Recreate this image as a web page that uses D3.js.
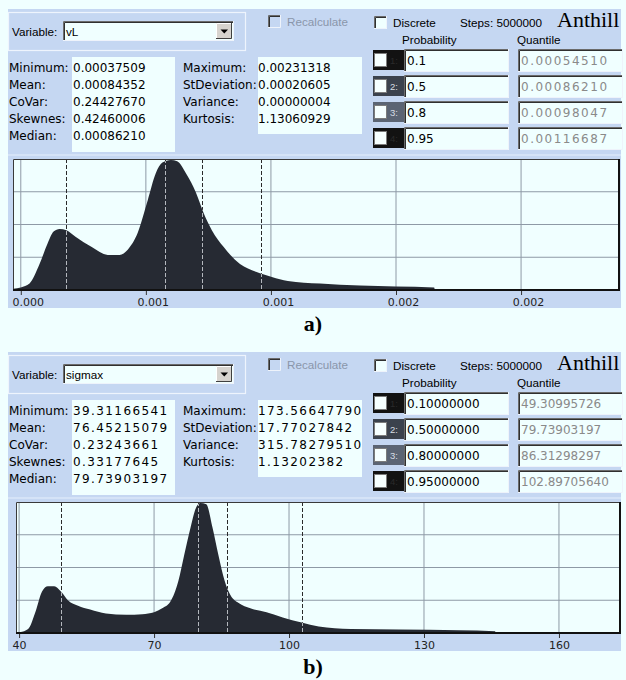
<!DOCTYPE html>
<html><head><meta charset="utf-8">
<script src="https://cdn.jsdelivr.net/npm/d3@7"></script>
<style>
body{margin:0;background:#f0ffff;}
svg{display:block;}
</style></head>
<body>
<svg id="c" width="626" height="680"></svg>
<script>
// ---------- DATA ----------
const variableNames = ["vL", "sigmax"];
const panelLetters = ["a)", "b)"];
const statLabelsLeft = ["Minimum:", "Mean:", "CoVar:", "Skewnes:", "Median:"];
const statLabelsRight = ["Maximum:", "StDeviation:", "Variance:", "Kurtosis:"];
const statsALeft = ["0.00037509", "0.00084352", "0.24427670", "0.42460006", "0.00086210"];
const statsARight = ["0.00231318", "0.00020605", "0.00000004", "1.13060929"];
const statsBLeft = ["39.31166541", "76.45215079", "0.23243661", "0.33177645", "79.73903197"];
const statsBRight = ["173.56647790", "17.77027842", "315.78279510", "1.13202382"];
const probA = ["0.1", "0.5", "0.8", "0.95"];
const probB = ["0.10000000", "0.50000000", "0.80000000", "0.95000000"];
const quantA = [0.00054510, 0.00086210, 0.00098047, 0.00116687];
const quantAText = ["0.00054510", "0.00086210", "0.00098047", "0.00116687"];
const quantB = [49.30995726, 79.73903197, 86.31298297, 102.89705640];
const quantBText = ["49.30995726", "79.73903197", "86.31298297", "102.89705640"];
const domainA = [0.00037509, 0.00231318];
const domainB = [39.31166541, 173.56647790];
const ticksA = [0.0004, 0.0008, 0.0012, 0.0016, 0.0020];
const tickLabelsA = ["0.000", "0.001", "0.001", "0.002", "0.002"];
const ticksB = [40, 70, 100, 130, 160];
const tickLabelsB = ["40", "70", "100", "130", "160"];
const rowColors = ["#121212", "#3b424d", "#5b6473", "#121212"];
// density outline (relative height, peak = 1)
const densA_x = [0.000376,0.000400,0.000428,0.000460,0.000486,0.000505,0.000524,0.000546,0.000575,0.000627,0.000678,0.000716,0.000742,0.000774,0.000806,0.000832,0.000853,0.000880,0.000900,0.000930,0.000960,0.000985,0.001011,0.001049,0.001101,0.001152,0.001203,0.001254,0.001357,0.001485,0.001600,0.001722,0.001724];
const densA_y = [0.01,0.02,0.05,0.20,0.36,0.45,0.47,0.46,0.41,0.33,0.27,0.27,0.31,0.44,0.69,0.90,0.98,1.00,0.99,0.89,0.75,0.59,0.46,0.33,0.20,0.14,0.10,0.07,0.05,0.034,0.026,0.02,0];
const densB_x = [39.4,40.2,42.0,43.7,45.1,46.4,47.8,49.3,50.9,53.1,55.8,59.3,63.8,67.4,70.0,71.8,73.6,75.4,76.7,78.1,79.4,80.3,81.6,83.0,84.3,85.7,87.0,88.8,91.4,95.0,98.6,102.8,106.6,113.7,124.4,137.8,145.8,145.9];
const densB_y = [0,0.005,0.03,0.17,0.32,0.36,0.36,0.32,0.25,0.21,0.18,0.15,0.14,0.145,0.16,0.19,0.24,0.40,0.60,0.81,0.97,1.0,0.99,0.81,0.60,0.40,0.29,0.23,0.19,0.16,0.12,0.08,0.05,0.03,0.026,0.021,0.013,0];

// ---------- DRAW ----------
const svg = d3.select("#c");
const BLUE = "#c5d7f2", AZ = "#f0ffff", FILL = "#262a33";
const SANS = "'Liberation Sans', Arial, sans-serif";
const DSANS = "'DejaVu Sans', sans-serif";
const SERIF = "'Liberation Serif', 'Times New Roman', serif";

function sunken(g, x, y, w, h, fill) {
  g.append("rect").attr("x", x).attr("y", y).attr("width", w).attr("height", h).attr("fill", fill);
  g.append("path").attr("d", `M${x+0.5},${y+h}V${y+0.5}H${x+w}`).attr("fill", "none").attr("stroke", "#6b6b6b");
  g.append("path").attr("d", `M${x+1.5},${y+h-1}V${y+1.5}H${x+w-1}`).attr("fill", "none").attr("stroke", "#303030");
  g.append("path").attr("d", `M${x},${y+h-0.5}H${x+w-0.5}V${y}`).attr("fill", "none").attr("stroke", "#eef3fb");
}

function panel(idx, oy, stL, stR, probs, qText, qVals, domain, ticks, tickLabels, dx_, dy_, labelDx, L, R, statLS, quantLS) {
  const g = svg.append("g").attr("transform", `translate(0,${oy})`);
  g.append("rect").attr("x", 8).attr("y", 9).attr("width", 613).attr("height", 299).attr("fill", BLUE);
  // group box for variable
  g.append("rect").attr("x", 8.5).attr("y", 12.5).attr("width", 237).attr("height", 38)
    .attr("fill", "none").attr("stroke", "#eef4fd").attr("stroke-width", 1.2);
  g.append("text").attr("x", 12).attr("y", 36).attr("font-family", SANS).attr("font-size", 11.7).text("Variable:");
  sunken(g, 63, 21, 171, 20, AZ);
  g.append("text").attr("x", 66).attr("y", 35.5).attr("font-family", SANS).attr("font-size", 11.7).text(variableNames[idx]);
  // dropdown button
  g.append("rect").attr("x", 216).attr("y", 23).attr("width", 16).attr("height", 16).attr("fill", "#d6d3ce");
  g.append("path").attr("d", "M216.5,39V23.5H232").attr("fill", "none").attr("stroke", "#ffffff");
  g.append("path").attr("d", "M216,38.5H231.5V23").attr("fill", "none").attr("stroke", "#404040");
  g.append("path").attr("d", "M220.5,29.5H228L224.25,33.5Z").attr("fill", "#000");
  // Recalculate checkbox (disabled)
  sunken(g, 268, 15, 13, 13, BLUE);
  g.append("text").attr("x", 287).attr("y", 26).attr("font-family", SANS).attr("font-size", 11.7).attr("fill", "#8a96aa").text("Recalculate");
  // Discrete
  sunken(g, 374, 16, 13, 13, AZ);
  g.append("text").attr("x", 393).attr("y", 26.5).attr("font-family", SANS).attr("font-size", 11.7).text("Discrete");
  g.append("text").attr("x", 460).attr("y", 26.5).attr("font-family", SANS).attr("font-size", 11.7).text("Steps: 5000000");
  g.append("text").attr("x", 557).attr("y", 27).attr("font-family", SERIF).attr("font-size", 22).text("Anthill");
  g.append("text").attr("x", 402).attr("y", 44).attr("font-family", SANS).attr("font-size", 11.7).text("Probability");
  g.append("text").attr("x", 517).attr("y", 44).attr("font-family", SANS).attr("font-size", 11.7).text("Quantile");

  // stats
  g.append("rect").attr("x", 72).attr("y", 57).attr("width", 103).attr("height", 95).attr("fill", AZ);
  g.append("rect").attr("x", 258).attr("y", 57).attr("width", 104).attr("height", 77).attr("fill", AZ);
  const rowY = i => 71.5 + i * 17;
  statLabelsLeft.forEach((t, i) => {
    g.append("text").attr("x", 9).attr("y", rowY(i)).attr("font-family", DSANS).attr("font-size", 12).text(t);
    g.append("text").attr("x", 73).attr("y", rowY(i)).attr("font-family", DSANS).attr("font-size", 12)
      .attr("letter-spacing", statLS).text(stL[i]);
  });
  statLabelsRight.forEach((t, i) => {
    g.append("text").attr("x", 183).attr("y", rowY(i)).attr("font-family", DSANS).attr("font-size", 12).text(t);
    g.append("text").attr("x", 258).attr("y", rowY(i)).attr("font-family", DSANS).attr("font-size", 12)
      .attr("letter-spacing", statLS).text(stR[i]);
  });

  // probability rows
  probs.forEach((p, i) => {
    const ty = 50 + i * 26;
    g.append("rect").attr("x", 373).attr("y", ty).attr("width", 31).attr("height", 20).attr("fill", rowColors[i]);
    g.append("rect").attr("x", 374.5).attr("y", ty + 3.5).attr("width", 12).attr("height", 13).attr("fill", "#f6ffff").attr("stroke", "#7b7b7b");
    g.append("text").attr("x", 390).attr("y", ty + 14).attr("font-family", SANS).attr("font-size", 9.5)
      .attr("fill", i === 0 || i === 3 ? "#2a2a2a" : "#d8dde4").text((i + 1) + ":");
    sunken(g, 404, ty - 1, 105, 23, AZ);
    g.append("text").attr("x", 407).attr("y", ty + 15).attr("font-family", DSANS).attr("font-size", 12).text(p);
    sunken(g, 518, ty - 1, 105, 23, AZ);
    g.append("text").attr("x", 521).attr("y", ty + 15).attr("font-family", DSANS).attr("font-size", 12)
      .attr("letter-spacing", quantLS).attr("fill", "#8a8a8a").text(qText[i]);
  });

  // chart
  const T = 159, B = 290;
  g.append("rect").attr("x", 8).attr("y", 154).attr("width", 613).attr("height", 2).attr("fill", "#d5e3f7");
  const x = d3.scaleLinear().domain(domain).range([L, R]);
  const y = d3.scaleLinear().domain([0, 1]).range([B, T + 1]);
  g.append("rect").attr("x", L).attr("y", T).attr("width", R - L).attr("height", B - T).attr("fill", AZ);
  // gridlines
  const grid = g.append("g");
  ticks.forEach(t => grid.append("line").attr("x1", x(t)).attr("x2", x(t)).attr("y1", T).attr("y2", B).attr("stroke", "#8e9aa6"));
  [0.25, 0.5, 0.75].forEach(f => {
    const yy = T + (B - T) * f;
    grid.append("line").attr("x1", L).attr("x2", R).attr("y1", yy).attr("y2", yy).attr("stroke", "#8e9aa6");
  });
  // density area
  const pts = dx_.map((v, i) => [v, dy_[i]]);
  const area = d3.area().x(d => x(d[0])).y0(B).y1(d => y(d[1])).curve(d3.curveMonotoneX);
  const clipId = "clip" + idx;
  g.append("clipPath").attr("id", clipId).append("path").attr("d", area(pts));
  g.append("path").attr("d", area(pts)).attr("fill", FILL);
  // quantile lines
  qVals.forEach(q => {
    g.append("line").attr("x1", Math.round(x(q)) + 0.5).attr("x2", Math.round(x(q)) + 0.5).attr("y1", T).attr("y2", B)
      .attr("stroke", "#2a2a2a").attr("stroke-dasharray", "4,2");
    g.append("line").attr("x1", Math.round(x(q)) + 0.5).attr("x2", Math.round(x(q)) + 0.5).attr("y1", T).attr("y2", B)
      .attr("stroke", "#b4b8be").attr("stroke-dasharray", "4,2").attr("clip-path", `url(#${clipId})`);
  });
  // frame
  g.append("path").attr("d", `M${L + 0.5},${B}V${T + 0.5}H${R}`).attr("fill", "none").attr("stroke", "#3a3a3a");
  g.append("path").attr("d", `M${L},${B}H${R}V${T}`).attr("fill", "none").attr("stroke", "#111").attr("stroke-width", 2);
  // axis
  const axis = d3.axisBottom(x).tickValues(ticks).tickFormat((d, i) => tickLabels[i]).tickSize(4).tickSizeOuter(0);
  const ax = g.append("g").attr("transform", `translate(0,${B + 1})`).call(axis);
  ax.select(".domain").remove();
  ax.selectAll(".tick line").attr("stroke", "#333");
  ax.selectAll(".tick text").attr("font-family", DSANS).attr("font-size", 11).attr("fill", "#222")
    .attr("dy", "0.71em").attr("y", 7).attr("dx", labelDx);
  // panel letter
  g.append("text").attr("x", 313).attr("y", 331).attr("text-anchor", "middle").attr("font-family", SERIF)
    .attr("font-weight", "bold").attr("font-size", 22).text(panelLetters[idx]);
}

panel(0, 0, statsALeft, statsARight, probA, quantAText, quantA, domainA, ticksA, tickLabelsA, densA_x, densA_y, 7, 13, 619, 0, 1.5);
panel(1, 343, statsBLeft, statsBRight, probB, quantBText, quantB, domainB, ticksB, tickLabelsB, densB_x, densB_y, 0, 16, 620, 1.4, 0);
</script>
</body></html>
